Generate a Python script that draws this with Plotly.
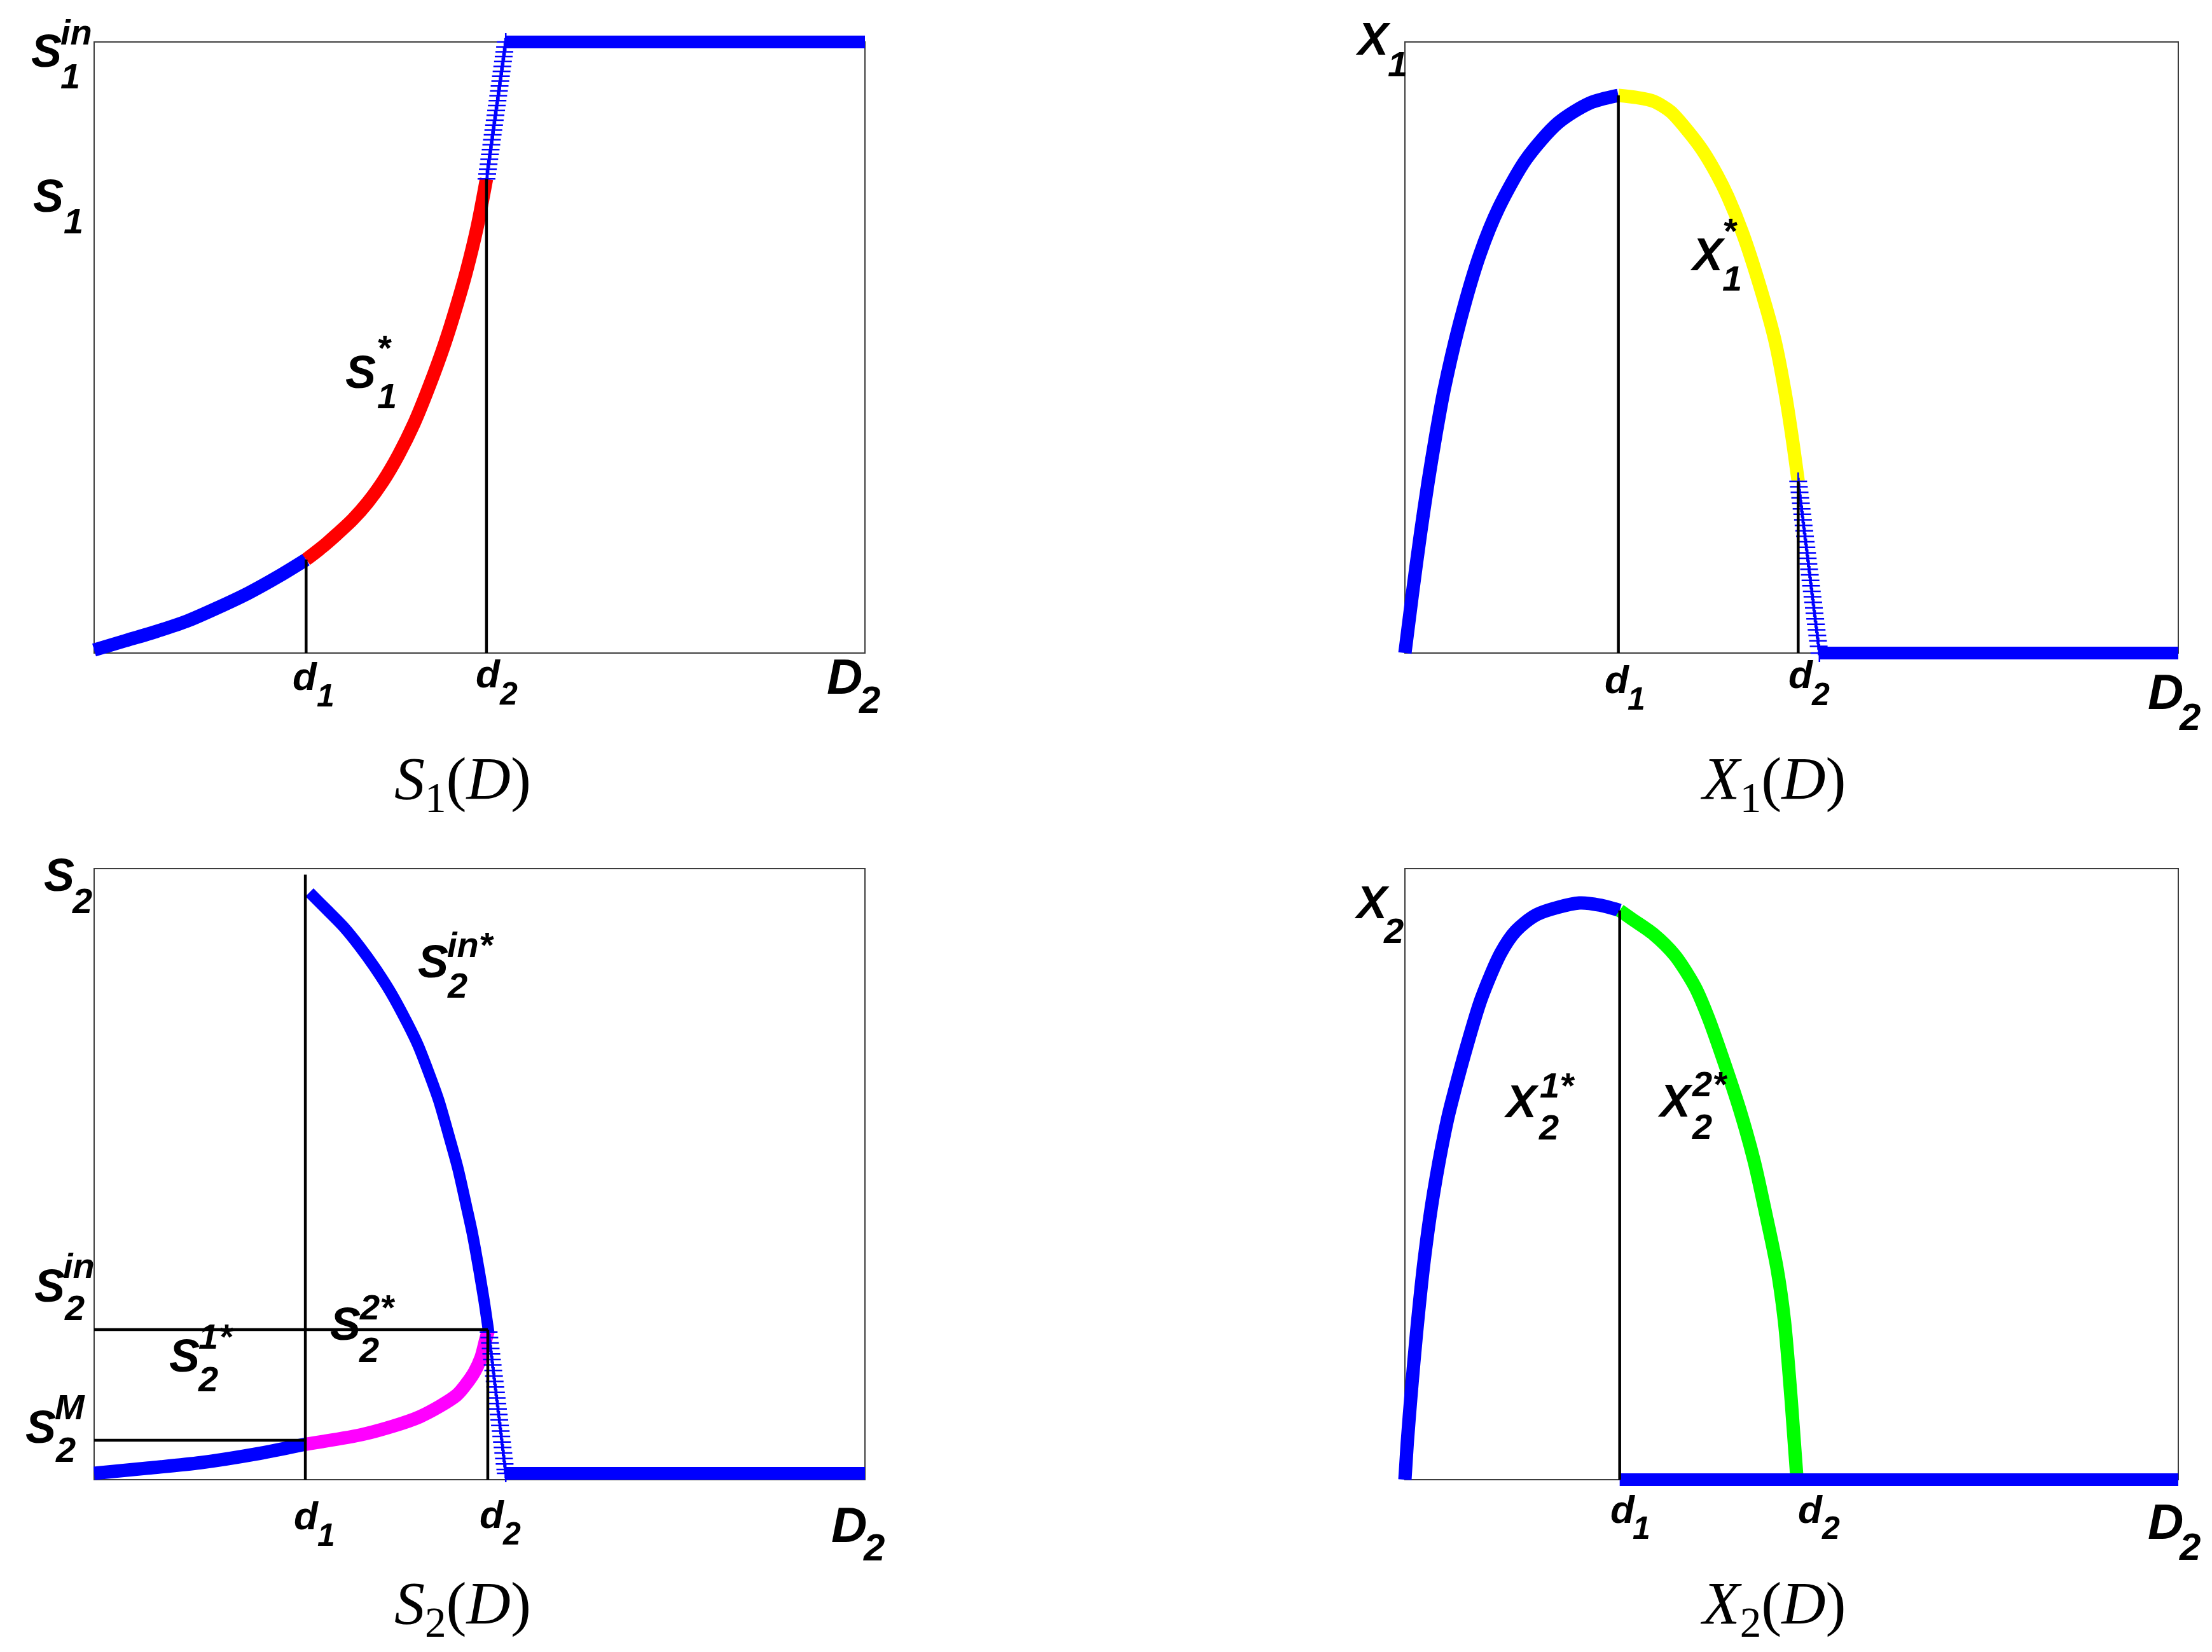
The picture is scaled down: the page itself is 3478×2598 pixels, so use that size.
import plotly.graph_objects as go

# ---------------- data (D axis normalised so that D2 = 1) ----------------
# Panel 1 : S1(D)
s1_blue_x = [0.0, 0.04, 0.08, 0.12, 0.16, 0.20, 0.24, 0.275]
s1_blue_y = [0.005, 0.020, 0.035, 0.052, 0.074, 0.098, 0.126, 0.153]
s1_red_x = [0.275, 0.295, 0.315, 0.335, 0.355, 0.375, 0.395, 0.415, 0.435, 0.455, 0.470, 0.483, 0.497, 0.509]
s1_red_y = [0.153, 0.1725, 0.1945, 0.218, 0.2465, 0.2815, 0.3245, 0.3755, 0.4375, 0.507, 0.567, 0.6246, 0.6974, 0.776]
s1_steep_x = [0.5090, 0.5099, 0.5108, 0.5117, 0.5126, 0.5135, 0.5144, 0.5153, 0.5161, 0.5170,
              0.5179, 0.5188, 0.5197, 0.5206, 0.5215, 0.5224, 0.5233, 0.5242, 0.5251, 0.5260,
              0.5269, 0.5277, 0.5286, 0.5295, 0.5304, 0.5313, 0.5322, 0.5331, 0.5340]
s1_steep_y = [0.776, 0.784, 0.792, 0.800, 0.808, 0.816, 0.824, 0.832, 0.840, 0.848,
              0.856, 0.864, 0.872, 0.880, 0.888, 0.896, 0.904, 0.912, 0.920, 0.928,
              0.936, 0.944, 0.952, 0.960, 0.968, 0.976, 0.984, 0.992, 1.000]
s1_flat_x = [0.534, 1.0]
s1_flat_y = [1.0, 1.0]

# Panel 2 : X1(D)
x1_blue_x = [0.0, 0.01, 0.02, 0.03, 0.04, 0.0507, 0.0724, 0.0968, 0.1215, 0.157, 0.198, 0.239, 0.276]
x1_blue_y = [0.0, 0.10, 0.194, 0.280, 0.357, 0.431, 0.548, 0.652, 0.729, 0.8085, 0.8675, 0.900, 0.9126]
x1_yel_x = [0.276, 0.300, 0.3215, 0.3435, 0.3654, 0.3846, 0.4038, 0.4175, 0.4367, 0.4586, 0.478, 0.4915, 0.501, 0.5085]
x1_yel_y = [0.9126, 0.909, 0.903, 0.886, 0.855, 0.823, 0.782, 0.747, 0.687, 0.602, 0.514, 0.427, 0.350, 0.281]
x1_steep_x = [0.5085, 0.5094, 0.5103, 0.5111, 0.5120, 0.5129, 0.5138, 0.5147, 0.5155, 0.5164,
              0.5173, 0.5182, 0.5191, 0.5200, 0.5208, 0.5217, 0.5226, 0.5235, 0.5244, 0.5252,
              0.5261, 0.5270, 0.5279, 0.5288, 0.5296, 0.5305, 0.5314, 0.5323, 0.5332, 0.5341,
              0.5350, 0.5360]
x1_steep_y = [0.281, 0.272, 0.263, 0.254, 0.245, 0.236, 0.227, 0.218, 0.209, 0.200,
              0.191, 0.182, 0.173, 0.164, 0.155, 0.146, 0.137, 0.128, 0.119, 0.110,
              0.101, 0.092, 0.083, 0.074, 0.065, 0.056, 0.047, 0.038, 0.029, 0.020,
              0.011, 0.0]
x1_flat_x = [0.536, 1.0]
x1_flat_y = [0.0, 0.0]

# Panel 3 : S2(D)
s2_blue_x = [0.0, 0.070, 0.138, 0.210, 0.274]
s2_blue_y = [0.0104, 0.019, 0.0278, 0.042, 0.058]
s2_mag_x = [0.274, 0.3515, 0.4224, 0.470, 0.483, 0.4935, 0.502, 0.5078, 0.5116]
s2_mag_y = [0.058, 0.075, 0.103, 0.138, 0.157, 0.1766, 0.200, 0.228, 0.2456]
s2_in_x = [0.2794, 0.300, 0.3234, 0.345, 0.3647, 0.385, 0.406, 0.420, 0.4334, 0.447,
           0.461, 0.472, 0.483, 0.491, 0.4994, 0.506, 0.5118]
s2_in_y = [0.961, 0.935, 0.905, 0.8715, 0.837, 0.797, 0.748, 0.7116, 0.6685, 0.621,
           0.5595, 0.509, 0.4473, 0.401, 0.3423, 0.292, 0.2417]
s2_steep_x = [0.5118, 0.5127, 0.5135, 0.5144, 0.5153, 0.5161, 0.5170, 0.5178, 0.5187, 0.5196,
              0.5204, 0.5213, 0.5222, 0.5230, 0.5239, 0.5248, 0.5256, 0.5265, 0.5274, 0.5282,
              0.5291, 0.5299, 0.5308, 0.5317, 0.5325, 0.5334, 0.5340]
s2_steep_y = [0.2417, 0.2327, 0.2237, 0.2147, 0.2057, 0.1967, 0.1877, 0.1787, 0.1697, 0.1607,
              0.1517, 0.1427, 0.1337, 0.1247, 0.1157, 0.1067, 0.0977, 0.0887, 0.0797, 0.0707,
              0.0617, 0.0527, 0.0437, 0.0347, 0.0257, 0.0167, 0.0104]
s2_flat_x = [0.534, 1.0]
s2_flat_y = [0.0104, 0.0104]
s2_in_level = 0.2456
s2_m_level = 0.0645

# Panel 4 : X2(D)
x2_blue_x = [0.0, 0.003, 0.008, 0.015, 0.025, 0.037, 0.0551, 0.065, 0.079, 0.0987, 0.124, 0.1434,
             0.1708, 0.2256, 0.253, 0.2777]
x2_blue_y = [0.0, 0.06, 0.14, 0.24, 0.36, 0.4686, 0.590, 0.640, 0.705, 0.787, 0.862, 0.898,
             0.925, 0.9438, 0.940, 0.9316]
x2_grn_x = [0.2777, 0.294, 0.3215, 0.349, 0.3753, 0.392, 0.4098, 0.4326, 0.4517, 0.4668, 0.481,
            0.4907, 0.4995, 0.507]
x2_grn_y = [0.9316, 0.917, 0.8927, 0.858, 0.806, 0.757, 0.694, 0.607, 0.5206, 0.434, 0.347,
            0.260, 0.130, 0.0]
x2_flat_x = [0.2777, 1.0]
x2_flat_y = [0.0, 0.0]

# critical dilution rates per panel
d_marks = {1: (0.275, 0.509), 2: (0.276, 0.5085), 3: (0.274, 0.5107), 4: (0.2777, None)}

# bottom captions: (italic letter, subscript)
title_parts = [("S", "1"), ("X", "1"), ("S", "2"), ("X", "2")]

# ---------------- layout geometry ----------------
W, H = 3478, 2598
PAD = 0.03
boxes = {1: (148, 1360, 66, 1027), 2: (2209, 3425, 66, 1027),
         3: (148, 1360, 1366, 2327), 4: (2209, 3425, 1366, 2327)}

BLUE, RED, YEL, MAG, GRN = "#0000ff", "#ff0000", "#ffff00", "#ff00ff", "#00ff00"
LBL = "Liberation Sans Narrow, Arial Narrow, Liberation Sans, Arial"
SERIF = "Liberation Serif, DejaVu Serif, serif"
BW = 21   # band width (px)
TS = 96   # caption font size

fig = go.Figure()
layout = dict(width=W, height=H, margin=dict(l=0, r=0, t=0, b=0),
              paper_bgcolor="white", plot_bgcolor="rgba(0,0,0,0)", showlegend=False)
hidden = dict(showline=False, showgrid=False, zeroline=False, showticklabels=False,
              ticks="", fixedrange=True)
shapes = []
for k, (L, R, T, B) in boxes.items():
    w, h = R - L, B - T
    sx = "" if k == 1 else str(k)
    layout["xaxis" + sx] = dict(domain=[(L - PAD * w) / W, (R + PAD * w) / W],
                                range=[-PAD, 1 + PAD], anchor="y" + sx, **hidden)
    layout["yaxis" + sx] = dict(domain=[1 - (B + PAD * h) / H, 1 - (T - PAD * h) / H],
                                range=[-PAD, 1 + PAD], anchor="x" + sx, **hidden)
    shapes.append(dict(type="rect", xref="x" + sx, yref="y" + sx, x0=0, x1=1, y0=0, y1=1,
                       line=dict(color="#3c3c3c", width=2), layer="below"))


def ax(k):
    return ("x", "y") if k == 1 else ("x%d" % k, "y%d" % k)


def band(k, xs, ys, color, width=BW):
    xa, ya = ax(k)
    fig.add_trace(go.Scatter(x=xs, y=ys, xaxis=xa, yaxis=ya, mode="lines",
                             line=dict(color=color, width=width, shape="spline", smoothing=0.8),
                             hoverinfo="skip"))


def ladder(k, xs, ys, color):
    xa, ya = ax(k)
    fig.add_trace(go.Scatter(x=xs, y=ys, xaxis=xa, yaxis=ya, mode="lines+markers",
                             line=dict(color=color, width=3),
                             marker=dict(symbol="cross-thin", size=20,
                                         line=dict(color=color, width=2.5)),
                             hoverinfo="skip"))


def bline(k, xs, ys, width=4.5):
    xa, ya = ax(k)
    fig.add_trace(go.Scatter(x=xs, y=ys, xaxis=xa, yaxis=ya, mode="lines",
                             line=dict(color="black", width=width), hoverinfo="skip"))


# Panel 1
band(1, s1_blue_x, s1_blue_y, BLUE)
band(1, s1_red_x, s1_red_y, RED)
ladder(1, s1_steep_x, s1_steep_y, BLUE)
band(1, s1_flat_x, s1_flat_y, BLUE, 20)
bline(1, [d_marks[1][0]] * 2, [0, s1_blue_y[-1]])
bline(1, [d_marks[1][1]] * 2, [0, s1_red_y[-1]])

# Panel 2
band(2, x1_blue_x, x1_blue_y, BLUE)
band(2, x1_yel_x, x1_yel_y, YEL)
ladder(2, x1_steep_x, x1_steep_y, BLUE)
band(2, x1_flat_x, x1_flat_y, BLUE, 20)
bline(2, [d_marks[2][0]] * 2, [0, x1_blue_y[-1]])
bline(2, [d_marks[2][1]] * 2, [0, x1_yel_y[-1]])

# Panel 3
band(3, s2_blue_x, s2_blue_y, BLUE)
band(3, s2_mag_x, s2_mag_y, MAG)
band(3, s2_in_x, s2_in_y, BLUE, 18)
ladder(3, s2_steep_x, s2_steep_y, BLUE)
band(3, s2_flat_x, s2_flat_y, BLUE, 20)
bline(3, [d_marks[3][0]] * 2, [0, 0.99])
bline(3, [d_marks[3][1]] * 2, [0, s2_in_level])
bline(3, [0, d_marks[3][1]], [s2_in_level] * 2)
bline(3, [0, d_marks[3][0]], [s2_m_level] * 2)

# Panel 4
band(4, x2_blue_x, x2_blue_y, BLUE)
band(4, x2_grn_x, x2_grn_y, GRN)
band(4, x2_flat_x, x2_flat_y, BLUE, 20)
bline(4, [d_marks[4][0]] * 2, [0, x2_blue_y[-1]])

# ---------------- text labels ----------------
anns = []


def t(px, py, text, size):
    anns.append(dict(xref="paper", yref="paper", x=px / W, y=1 - py / H, text=text,
                     showarrow=False, xanchor="center", yanchor="middle",
                     font=dict(family=LBL, size=size, color="black", weight="bold", style="italic")))


def lab(main, mpos, sup=None, spos=None, sub=None, bpos=None, size=72, ssize=56):
    t(mpos[0], mpos[1], main, size)
    if sup:
        t(spos[0], spos[1], sup, ssize)
    if sub:
        t(bpos[0], bpos[1], sub, ssize)


# panel 1
lab("S", (73, 80), "in", (120, 50), "1", (111, 119))
lab("S", (76, 308), None, None, "1", (115, 347))
lab("S", (567, 585), "*", (604, 546), "1", (608, 622))
lab("d", (479, 1063), None, None, "1", (512, 1094), 62, 50)
lab("d", (767, 1060), None, None, "2", (799, 1091), 62, 50)
lab("D", (1328, 1064), None, None, "2", (1367, 1100), 78, 60)
# panel 2
lab("X", (2159, 61), None, None, "1", (2197, 100))
lab("X", (2685, 400), "*", (2720, 363), "1", (2723, 438))
lab("d", (2542, 1068), None, None, "1", (2573, 1099), 62, 50)
lab("d", (2831, 1061), None, None, "2", (2862, 1092), 62, 50)
lab("D", (3405, 1088), None, None, "2", (3443, 1127), 78, 60)
# panel 3
lab("S", (93, 1376), None, None, "2", (129, 1416))
lab("S", (78, 2022), "in", (124, 1990), "2", (117, 2056))
lab("S", (64, 2244), "M", (110, 2212), "2", (103, 2279))
lab("S", (290, 2132), "1*", (339, 2101), "2", (327, 2168))
lab("S", (543, 2082), "2*", (593, 2055), "2", (580, 2122))
lab("S", (681, 1512), "in*", (740, 1485), "2", (719, 1549))
lab("d", (481, 2383), None, None, "1", (513, 2414), 62, 50)
lab("d", (773, 2381), None, None, "2", (804, 2412), 62, 50)
lab("D", (1335, 2398), None, None, "2", (1374, 2433), 78, 60)
# panel 4
lab("X", (2157, 1419), None, None, "2", (2191, 1463))
lab("X", (2392, 1732), "1*", (2448, 1706), "2", (2435, 1772))
lab("X", (2634, 1731), "2*", (2688, 1704), "2", (2676, 1771))
lab("d", (2551, 2373), None, None, "1", (2581, 2403), 62, 50)
lab("d", (2846, 2373), None, None, "2", (2878, 2403), 62, 50)
lab("D", (3405, 2393), None, None, "2", (3443, 2432), 78, 60)

# captions below each panel
ital = '<span style="font-style:italic;font-size:%dpx">%%s</span>' % TS
for (px, py), (letter, sub) in zip([(727, 1231), (2788, 1231), (727, 2528), (2788, 2528)], title_parts):
    txt = ital % letter + "<sub>" + sub + "</sub>(" + ital % "D" + ")"
    anns.append(dict(xref="paper", yref="paper", x=px / W, y=1 - py / H, text=txt,
                     showarrow=False, xanchor="center", yanchor="middle",
                     font=dict(family=SERIF, size=TS, color="black")))

layout["shapes"] = shapes
layout["annotations"] = anns
fig.update_layout(**layout)

fig.write_html("out.html", config={"displayModeBar": False},
               post_script="document.body.style.margin='0';document.body.style.overflow='hidden';")
